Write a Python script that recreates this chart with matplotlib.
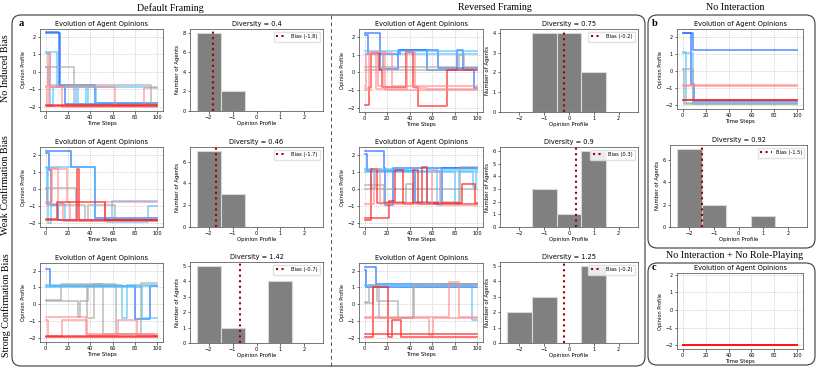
import matplotlib
matplotlib.use("Agg")
import matplotlib.pyplot as plt
from matplotlib.patches import FancyBboxPatch
from matplotlib.lines import Line2D
from matplotlib.ticker import MaxNLocator

W, H = 822, 372

opinions = [-2, -1, 0, 1, 2]
time_ticks = [0, 20, 40, 60, 80, 100]

# agent trajectories: (time step, opinion) change points
r1_default = [
    [(0, 2.25), (12, -0.8), (17, -1.85)],
    [(0, 2.2), (13, -0.75), (44, -1.8)],
    [(0, 1.1), (4, -1.95), (7, -0.9), (27, -1.9), (29, -0.9), (36, -1.9), (38, -0.9)],
    [(0, 1.15), (10, -0.9), (45, -1.85)],
    [(0, 0.3), (25, -1.9)],
    [(0, 0.25), (2, -0.75), (94, -1.8)],
    [(0, -0.8), (2, 1.05), (4, -0.85), (62, -1.9), (88, -0.95)],
    [(0, -0.9), (1, -1.95), (3, -0.9), (15, -2.0)],
    [(0, -1.9)],
    [(0, -1.98)],
]
r1_reversed = [
    [(0, 2.25), (14, 0.2), (30, 1.25), (55, 0.1), (82, 1.25), (87, 0.15), (97, -0.9)],
    [(0, 2.1), (3, 1.05), (31, 1.25), (65, 0.25)],
    [(0, 1.2)],
    [(0, 1.05), (13, 0.2), (16, 1.05)],
    [(0, 0.3), (84, 1.0), (88, 0.3)],
    [(0, 0.1)],
    [(0, -1.85), (4, -0.85), (6, 1.1), (13, 0.15), (15, -0.85), (37, 1.15),
     (43, -0.85), (47, -1.9), (73, 0.1)],
    [(0, -0.8), (1, 1.05), (12, -0.8), (16, 1.1), (24, -0.8)],
    [(0, -0.9), (4, 1.1), (10, -0.95), (38, 1.15), (45, -0.9), (55, -0.95)],
    [(0, -1.0), (6, 1.15), (18, -1.0)],
]
r1_nointer = [
    [(0, 2.2), (7, -0.8), (10, -1.8)],
    [(0, 2.2), (9, 1.2)],
    [(0, 1.1), (3, -1.9)],
    [(0, 1.05), (9, -1.9)],
    [(0, 0.1), (9, -1.95)],
    [(0, 0.05), (1, -1.95)],
    [(0, -0.85)],
    [(0, -0.88)],
    [(0, -1.7)],
    [(0, -1.75)],
]
r2_default = [
    [(0, 2.2), (23, 1.25), (44, -1.75)],
    [(0, 2.1), (3, 1.1), (5, -0.95), (11, -1.85)],
    [(0, 1.25), (2, -2.0), (5, 1.25), (44, -1.8), (59, -0.75)],
    [(0, 1.2), (1, -0.9), (17, -1.9), (55, -1.95), (92, -1.0)],
    [(0, 0.05), (27, -1.9)],
    [(0, 0.0), (1, -0.95), (35, -1.85), (38, -0.95), (62, -1.9)],
    [(0, -0.85), (5, 1.2), (11, -0.85), (16, -1.9)],
    [(0, -0.8), (6, 1.15), (19, -0.8), (22, -1.85), (53, -0.8)],
    [(0, -1.85), (28, 1.15), (30, -1.85)],
    [(0, -1.8), (10, -0.8), (53, -1.85)],
]
r2_reversed = [
    [(0, 2.2), (17, 1.2), (18, -0.95), (25, 1.2)],
    [(0, 2.05), (2, 1.05), (45, -0.85), (69, 1.2)],
    [(0, 1.1), (6, 0.05), (9, 1.1), (38, 1.05)],
    [(0, 1.15), (44, -0.8), (55, 1.15), (64, -0.95), (68, 1.15)],
    [(0, 1.0), (80, -0.9), (84, 1.0), (96, 0.1), (99, 1.0)],
    [(0, 0.2), (17, -0.8), (37, 0.25), (43, -0.8), (85, 1.25)],
    [(0, 0.0)],
    [(0, -1.85), (6, 1.15), (11, -0.85), (51, 1.25), (55, -0.85), (86, 0.25), (98, -0.85)],
    [(0, -1.75), (22, -0.75), (27, 1.1), (34, -0.9), (43, 1.1), (47, -0.9)],
    [(0, -0.9), (8, 1.15), (14, -0.9), (60, 1.05), (67, -0.95)],
]
r3_default = [
    [(0, 2.1), (4, 1.1), (80, -0.9), (93, 1.1)],
    [(0, 1.15), (68, -0.8), (73, 1.15)],
    [(0, 1.05), (86, -0.8)],
    [(0, 1.1)],
    [(0, 0.25), (14, 1.2), (37, -0.8), (43, 1.2), (63, -1.75), (85, 1.25)],
    [(0, 0.2), (29, -0.75), (31, 0.2), (38, 1.2), (51, -1.75), (97, -1.9)],
    [(0, -0.75), (36, -1.8)],
    [(0, -0.95), (2, -1.9), (15, -0.95), (37, -1.85), (65, -0.95), (82, -1.85)],
    [(0, -1.9)],
    [(0, -1.95)],
]
r3_reversed = [
    [(0, 2.2), (10, 1.2)],
    [(0, 2.05), (1, 1.05)],
    [(0, 1.1), (95, -0.95)],
    [(0, 1.15)],
    [(0, 0.15), (4, 1.15), (11, 0.2), (30, -0.8), (43, 1.2)],
    [(0, 0.1), (7, 1.1), (13, -0.85), (44, 1.15)],
    [(0, -1.95), (7, 1.05), (21, -1.95), (24, -0.95), (32, -1.95)],
    [(0, -0.75), (75, 1.3), (84, -0.75)],
    [(0, -0.8), (57, -1.85), (61, -0.8)],
    [(0, -1.75)],
]
c_nointer_norole = [[(0, -2.0)] for _ in range(10)]

# final opinion histograms
counts_r1_default = [8, 2, 0, 0, 0]
counts_r1_reversed = [0, 4, 4, 2, 0]
counts_r1_nointer = [7, 2, 0, 1, 0]
counts_r2_default = [7, 3, 0, 0, 0]
counts_r2_reversed = [0, 3, 1, 6, 0]
counts_r3_default = [5, 1, 0, 4, 0]
counts_r3_reversed = [2, 3, 0, 5, 0]

bias_values = {"r1d": -1.8, "r1r": -0.2, "r1n": -1.5, "r2d": -1.7,
               "r2r": 0.3, "r3d": -0.7, "r3r": -0.2}
diversity_values = {"r1d": 0.4, "r1r": 0.75, "r1n": 0.92, "r2d": 0.46,
                    "r2r": 0.9, "r3d": 1.42, "r3r": 1.25}

colors = {2: "#1565ff", 1: "#4fc0ff", 0: "#a6a6a6", -1: "#ff8a8a", -2: "#ff1515"}

fig = plt.figure(figsize=(W / 100, H / 100), dpi=100)


def px_axes(l, t, r, b):
    return fig.add_axes([l / W, 1 - b / H, (r - l) / W, (b - t) / H])


def style_ax(ax):
    ax.tick_params(labelsize=3.6, length=1.8, width=0.4, pad=1)
    for s in ax.spines.values():
        s.set_linewidth(0.5)
        s.set_color("#444444")


def draw_lines(ax, agents, ylim=(-2.25, 2.45)):
    for agent in agents:
        t = [p[0] for p in agent] + [100]
        v = [p[1] for p in agent] + [agent[-1][1]]
        ax.plot(t, v, drawstyle="steps-post", color=colors[round(v[0])],
                lw=1.1, alpha=0.75)
    ax.set_xlim(-5, 105)
    ax.set_ylim(*ylim)
    ax.set_xticks(time_ticks)
    ax.set_yticks(opinions)
    ax.grid(True, ls=":", lw=0.5, color="#b0b0b0")
    ax.set_title("Evolution of Agent Opinions", fontsize=4.8, pad=2)
    ax.set_xlabel("Time Steps", fontsize=3.9, labelpad=1)
    ax.set_ylabel("Opinion Profile", fontsize=3.6, labelpad=2)
    style_ax(ax)


def draw_hist(ax, counts, key):
    ax.bar(opinions, counts, width=1.0, color="#808080",
           edgecolor="#d8d8d8", lw=0.8)
    ax.axvline(bias_values[key], color="#a00000", ls=":", lw=1.5,
               label=f"Bias ({bias_values[key]})")
    ax.set_xlim(-2.78, 2.78)
    ax.set_xticks(opinions)
    ax.yaxis.set_major_locator(MaxNLocator(nbins=7, integer=True))
    ax.set_title(f"Diversity = {diversity_values[key]}", fontsize=4.8, pad=2)
    ax.set_xlabel("Opinion Profile", fontsize=3.9, labelpad=1)
    ax.set_ylabel("Number of Agents", fontsize=3.9, labelpad=2)
    ax.legend(loc="upper right", fontsize=3.7, handlelength=2.2,
              borderpad=0.5, framealpha=0.85, edgecolor="#dddddd",
              fancybox=True)
    style_ax(ax)


# row 1
draw_lines(px_axes(40, 29, 163, 111), r1_default)
draw_hist(px_axes(190, 29, 323, 111), counts_r1_default, "r1d")
draw_lines(px_axes(359, 29, 483, 112), r1_reversed)
draw_hist(px_axes(500, 29, 638, 112), counts_r1_reversed, "r1r")
draw_lines(px_axes(677, 29, 803, 109), r1_nointer)
draw_hist(px_axes(670, 145, 807, 227), counts_r1_nointer, "r1n")

# row 2
draw_lines(px_axes(40, 147, 163, 227), r2_default)
draw_hist(px_axes(190, 147, 323, 227), counts_r2_default, "r2d")
draw_lines(px_axes(359, 147, 483, 227), r2_reversed)
draw_hist(px_axes(500, 147, 638, 227), counts_r2_reversed, "r2r")

# row 3
draw_lines(px_axes(40, 263, 163, 342), r3_default)
draw_hist(px_axes(190, 262, 323, 343), counts_r3_default, "r3d")
draw_lines(px_axes(359, 263, 483, 342), r3_reversed)
draw_hist(px_axes(500, 262, 638, 343), counts_r3_reversed, "r3r")

# panel c
draw_lines(px_axes(677, 273, 803, 349), c_nointer_norole, ylim=(-2.2, 2.1))

# panel frames
inch = fig.dpi_scale_trans
for (x0, y0, x1, y1) in [(12, 15, 645, 366), (648, 15, 815, 248), (648, 263, 815, 365)]:
    fig.patches.append(FancyBboxPatch(
        (x0 / 100, (H - y1) / 100), (x1 - x0) / 100, (y1 - y0) / 100,
        boxstyle="round,pad=0,rounding_size=0.09", transform=inch,
        fill=False, edgecolor="#3a3a3a", lw=0.8))
fig.lines.append(Line2D([331 / W, 331 / W], [1 - 15 / H, 1 - 366 / H],
                        transform=fig.transFigure, color="#555555",
                        lw=0.7, ls=(0, (4, 3))))

serif = "Liberation Serif"
for txt, x, y in [("Default Framing", 170, 8), ("Reversed Framing", 495, 8),
                  ("No Interaction", 735, 8),
                  ("No Interaction + No Role-Playing", 735, 256)]:
    fig.text(x / W, 1 - y / H, txt, fontsize=7.2, family=serif,
             ha="center", va="center")
for txt, y in [("No Induced Bias", 68), ("Weak Confirmation Bias", 185),
               ("Strong Confirmation Bias", 305)]:
    fig.text(6 / W, 1 - y / H, txt, fontsize=7.2, family=serif, rotation=90,
             ha="center", va="center")
for txt, x, y in [("a", 21, 24), ("b", 655, 24), ("c", 654, 268)]:
    fig.text(x / W, 1 - y / H, txt, fontsize=7.5, family=serif,
             weight="bold", ha="center", va="center")

fig.savefig("out.png", dpi=100)
